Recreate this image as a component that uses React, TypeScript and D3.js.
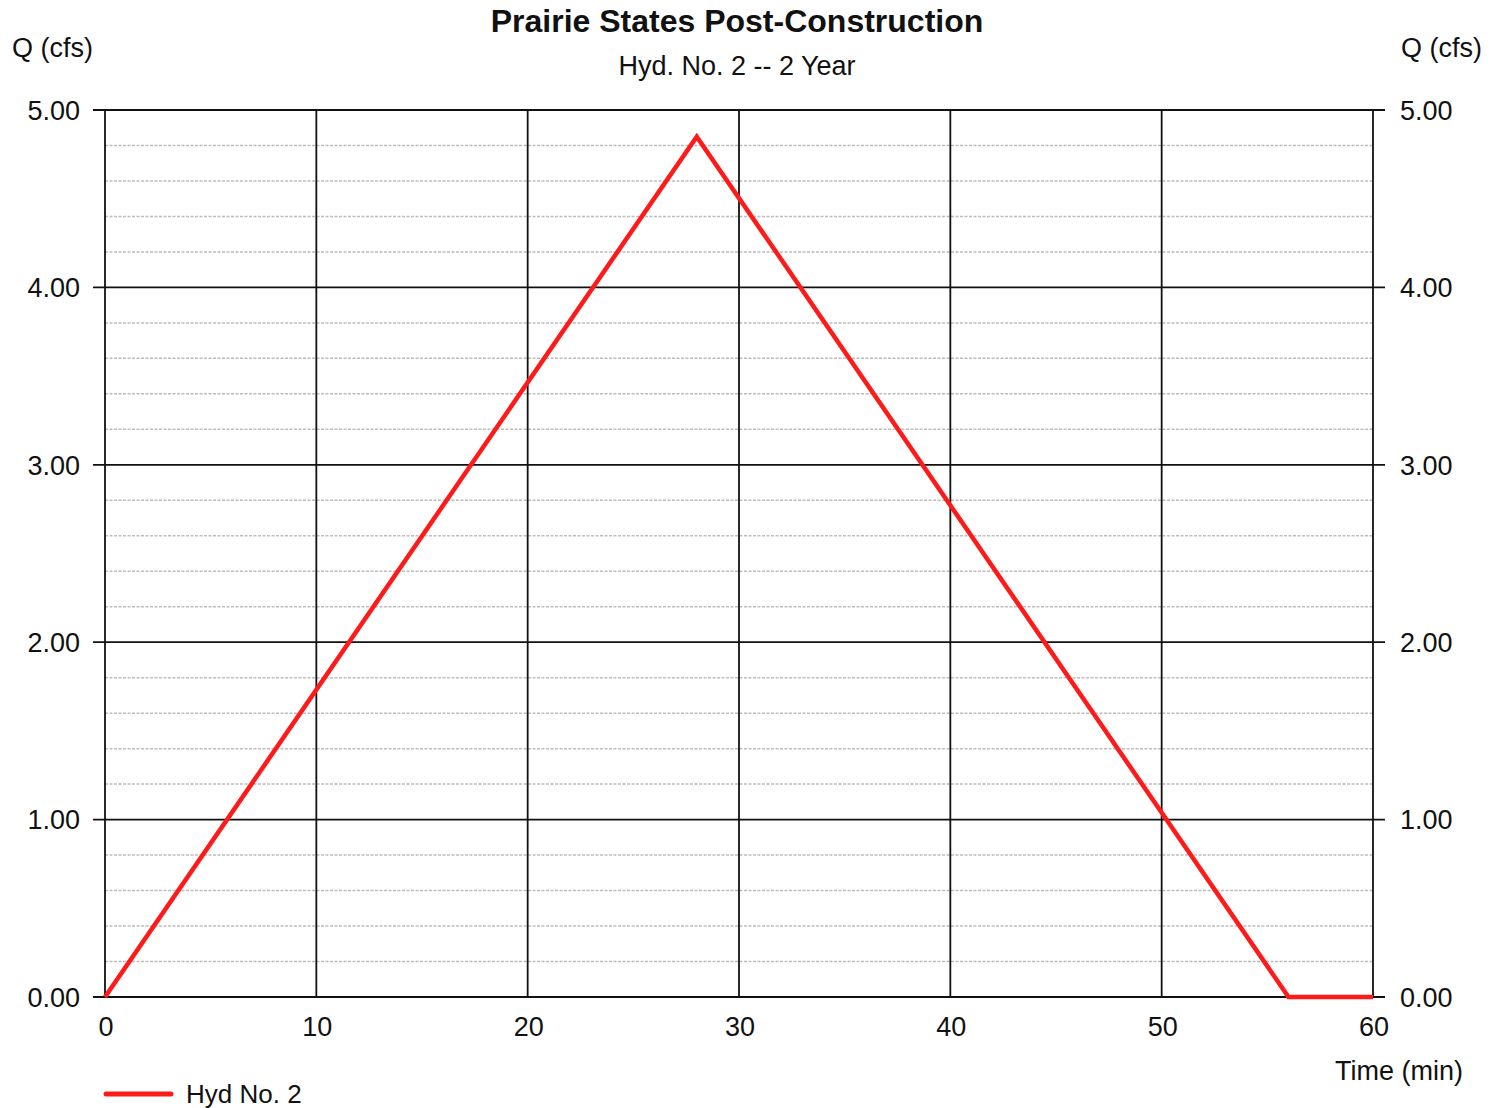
import React from "react";
import * as d3 from "d3";

const timeMin: number[] = [0, 28, 56, 60];
const flowCfs: number[] = [0, 4.85, 0, 0];
const xTicks: number[] = [0, 10, 20, 30, 40, 50, 60];
const yTicks: number[] = [0, 1, 2, 3, 4, 5];
const yMinor: number[] = [0.2, 0.4, 0.6, 0.8, 1.2, 1.4, 1.6, 1.8, 2.2, 2.4, 2.6, 2.8, 3.2, 3.4, 3.6, 3.8, 4.2, 4.4, 4.6, 4.8];
const title = "Prairie States Post-Construction";
const subtitle = "Hyd. No. 2 -- 2 Year";
const seriesName = "Hyd No. 2";

const W = 1499, H = 1108;
const L = 105, R = 1373, T = 110, B = 997;
const font = "'Liberation Sans', Arial, sans-serif";
const FS = 27;

export default function App() {
  const x = d3.scaleLinear().domain([0, 60]).range([L, R]);
  const y = d3.scaleLinear().domain([0, 5]).range([B, T]);
  const line = d3.line<number>().x((_, i) => x(timeMin[i])).y((d) => y(d));
  const data = flowCfs;
  return (
    <svg width={W} height={H} style={{ position: "absolute", left: 0, top: 0, background: "#fff" }} fontFamily={font}>
      <rect x={0} y={0} width={W} height={H} fill="#fff" />
      {yMinor.map((v) => (
        <line key={"m" + v} x1={L} x2={R} y1={y(v)} y2={y(v)} stroke="#bdbdbd" strokeWidth={1.5} strokeDasharray="3 1.5" />
      ))}
      {xTicks.map((t) => (
        <line key={"x" + t} x1={x(t)} x2={x(t)} y1={T} y2={B} stroke="#111" strokeWidth={1.8} />
      ))}
      {yTicks.map((t) => (
        <line key={"y" + t} x1={L - 12} x2={R + 12} y1={y(t)} y2={y(t)} stroke="#111" strokeWidth={1.8} />
      ))}
      {yTicks.map((t) => (
        <g key={"yl" + t}>
          <text x={80} y={y(t)} dy="0.36em" textAnchor="end" fontSize={FS} fill="#111">{t.toFixed(2)}</text>
          <text x={1400} y={y(t)} dy="0.36em" textAnchor="start" fontSize={FS} fill="#111">{t.toFixed(2)}</text>
        </g>
      ))}
      {xTicks.map((t) => (
        <text key={"xl" + t} x={x(t) + 1} y={1036} textAnchor="middle" fontSize={FS} fill="#111">{t}</text>
      ))}
      <path d={line(data) || ""} fill="none" stroke="#ff1a1a" strokeWidth={4.5} strokeLinejoin="miter" />
      <text x={737} y={32} textAnchor="middle" fontSize={32} fontWeight="bold" fill="#111">{title}</text>
      <text x={737} y={75} textAnchor="middle" fontSize={27} fill="#111">{subtitle}</text>
      <text x={12} y={57} fontSize={27} fill="#111">Q (cfs)</text>
      <text x={1482} y={57} textAnchor="end" fontSize={27} fill="#111">Q (cfs)</text>
      <text x={1463} y={1080} textAnchor="end" fontSize={27} fill="#111">Time (min)</text>
      <line x1={106} x2={171} y1={1094} y2={1094} stroke="#ff1a1a" strokeWidth={5} strokeLinecap="round" />
      <text x={186} y={1103} fontSize={26} fill="#111">{seriesName}</text>
    </svg>
  );
}
